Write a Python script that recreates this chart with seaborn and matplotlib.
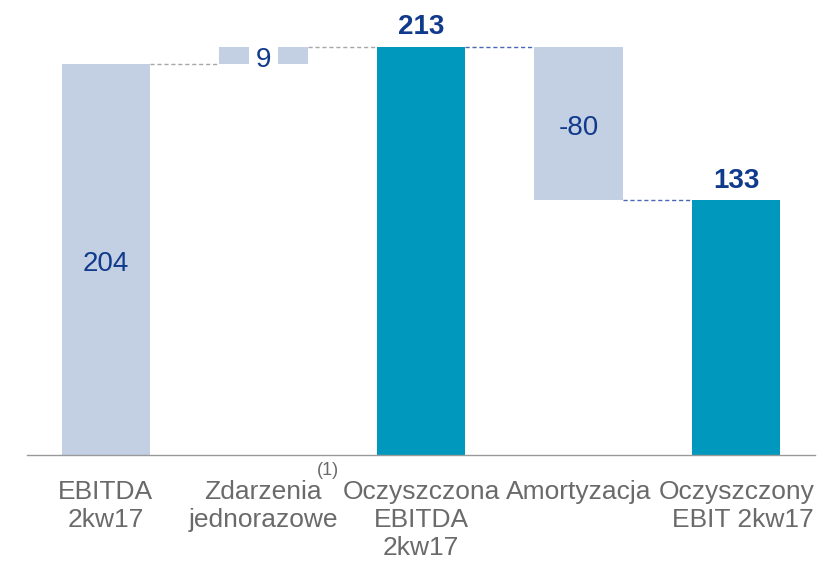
import matplotlib
matplotlib.use("Agg")
import matplotlib.pyplot as plt
import seaborn as sns
import pandas as pd
import numpy as np

categories = ["EBITDA\n2kw17", "Zdarzenia\njednorazowe", "Oczyszczona\nEBITDA\n2kw17",
              "Amortyzacja", "Oczyszczony\nEBIT 2kw17"]
changes = [204, 9, 213, -80, 133]
kinds = ["delta", "delta", "total", "delta", "total"]
label_texts = ["204", "9", "213", "-80", "133"]

# waterfall geometry derived from values
tops, bottoms, levels = [], [], []
running = 0
for v, k in zip(changes, kinds):
    if k == "total":
        bottoms.append(0); tops.append(v); running = v
    else:
        lo, hi = sorted([running, running + v])
        bottoms.append(lo); tops.append(hi); running += v
    levels.append(running)
heights = [t - b for t, b in zip(tops, bottoms)]

df = pd.DataFrame({"cat": categories, "height": heights, "bottom": bottoms,
                   "top": tops, "kind": kinds})

sns.set_theme(style="white")
plt.rcParams["font.family"] = ["Liberation Sans", "DejaVu Sans"]

LIGHT = "#c3cfe2"
TEAL = "#0098bc"
NAVY = "#103a8c"
GRAY_TXT = "#6a6a6a"

fig = plt.figure(figsize=(8.18, 5.63), dpi=100)
ax = fig.add_axes([27 / 818, (563 - 455) / 563, 788 / 818, (455 - 33.3) / 563])

sub_d = df[df.kind == "delta"]
sub_t = df[df.kind == "total"]
sns.barplot(data=sub_d, x="cat", y="height", order=categories, color=LIGHT,
            width=0.56, bottom=sub_d["bottom"].values, ax=ax, saturation=1,
            edgecolor="none", linewidth=0)
sns.barplot(data=sub_t, x="cat", y="height", order=categories, color=TEAL,
            width=0.56, bottom=sub_t["bottom"].values, ax=ax, saturation=1,
            edgecolor="none", linewidth=0)

ax.set_xlim(-0.5, 4.5)
ax.set_ylim(0, 220)

# connectors
conn_colors = ["#a8a8a8", "#a8a8a8", "#4a66b4", "#4a66b4"]
for i in range(len(categories) - 1):
    ax.plot([i + 0.28, i + 1 - 0.28], [levels[i], levels[i]], ls=(0, (3, 2)),
            lw=1.0, color=conn_colors[i], zorder=1)

# value labels
for i, (t, k) in enumerate(zip(label_texts, kinds)):
    if k == "total":
        ax.annotate(t, (i, tops[i]), xytext=(0, 4.5), textcoords="offset points",
                    ha="center", va="bottom", fontsize=20, fontweight="bold",
                    color=NAVY, annotation_clip=False)
    else:
        mid = (tops[i] + bottoms[i]) / 2
        kw = {}
        if heights[i] < 20:
            kw["bbox"] = dict(facecolor="white", edgecolor="none", pad=4.5)
        ax.annotate(t, (i, mid), xytext=(0, -3), textcoords="offset points",
                    ha="center", va="center", fontsize=20, color=NAVY, **kw)

ax.text(1.41, -8.3, "(1)", ha="center", va="center", fontsize=13, color=GRAY_TXT,
        clip_on=False)

ax.set_xlabel("")
ax.set_ylabel("")
ax.set_yticks([])
ax.tick_params(axis="x", length=0, pad=18)
for lbl in ax.get_xticklabels():
    lbl.set_fontsize(19)
    lbl.set_color(GRAY_TXT)
    lbl.set_linespacing(1.2)
    lbl.set_va("top")
    if lbl.get_text().startswith("Oczyszczony"):
        lbl.set_multialignment("right")
for s in ["top", "right", "left"]:
    ax.spines[s].set_visible(False)
ax.spines["bottom"].set_color("#9a9a9a")
ax.spines["bottom"].set_linewidth(1.0)

fig.savefig("out.png", dpi=100)
